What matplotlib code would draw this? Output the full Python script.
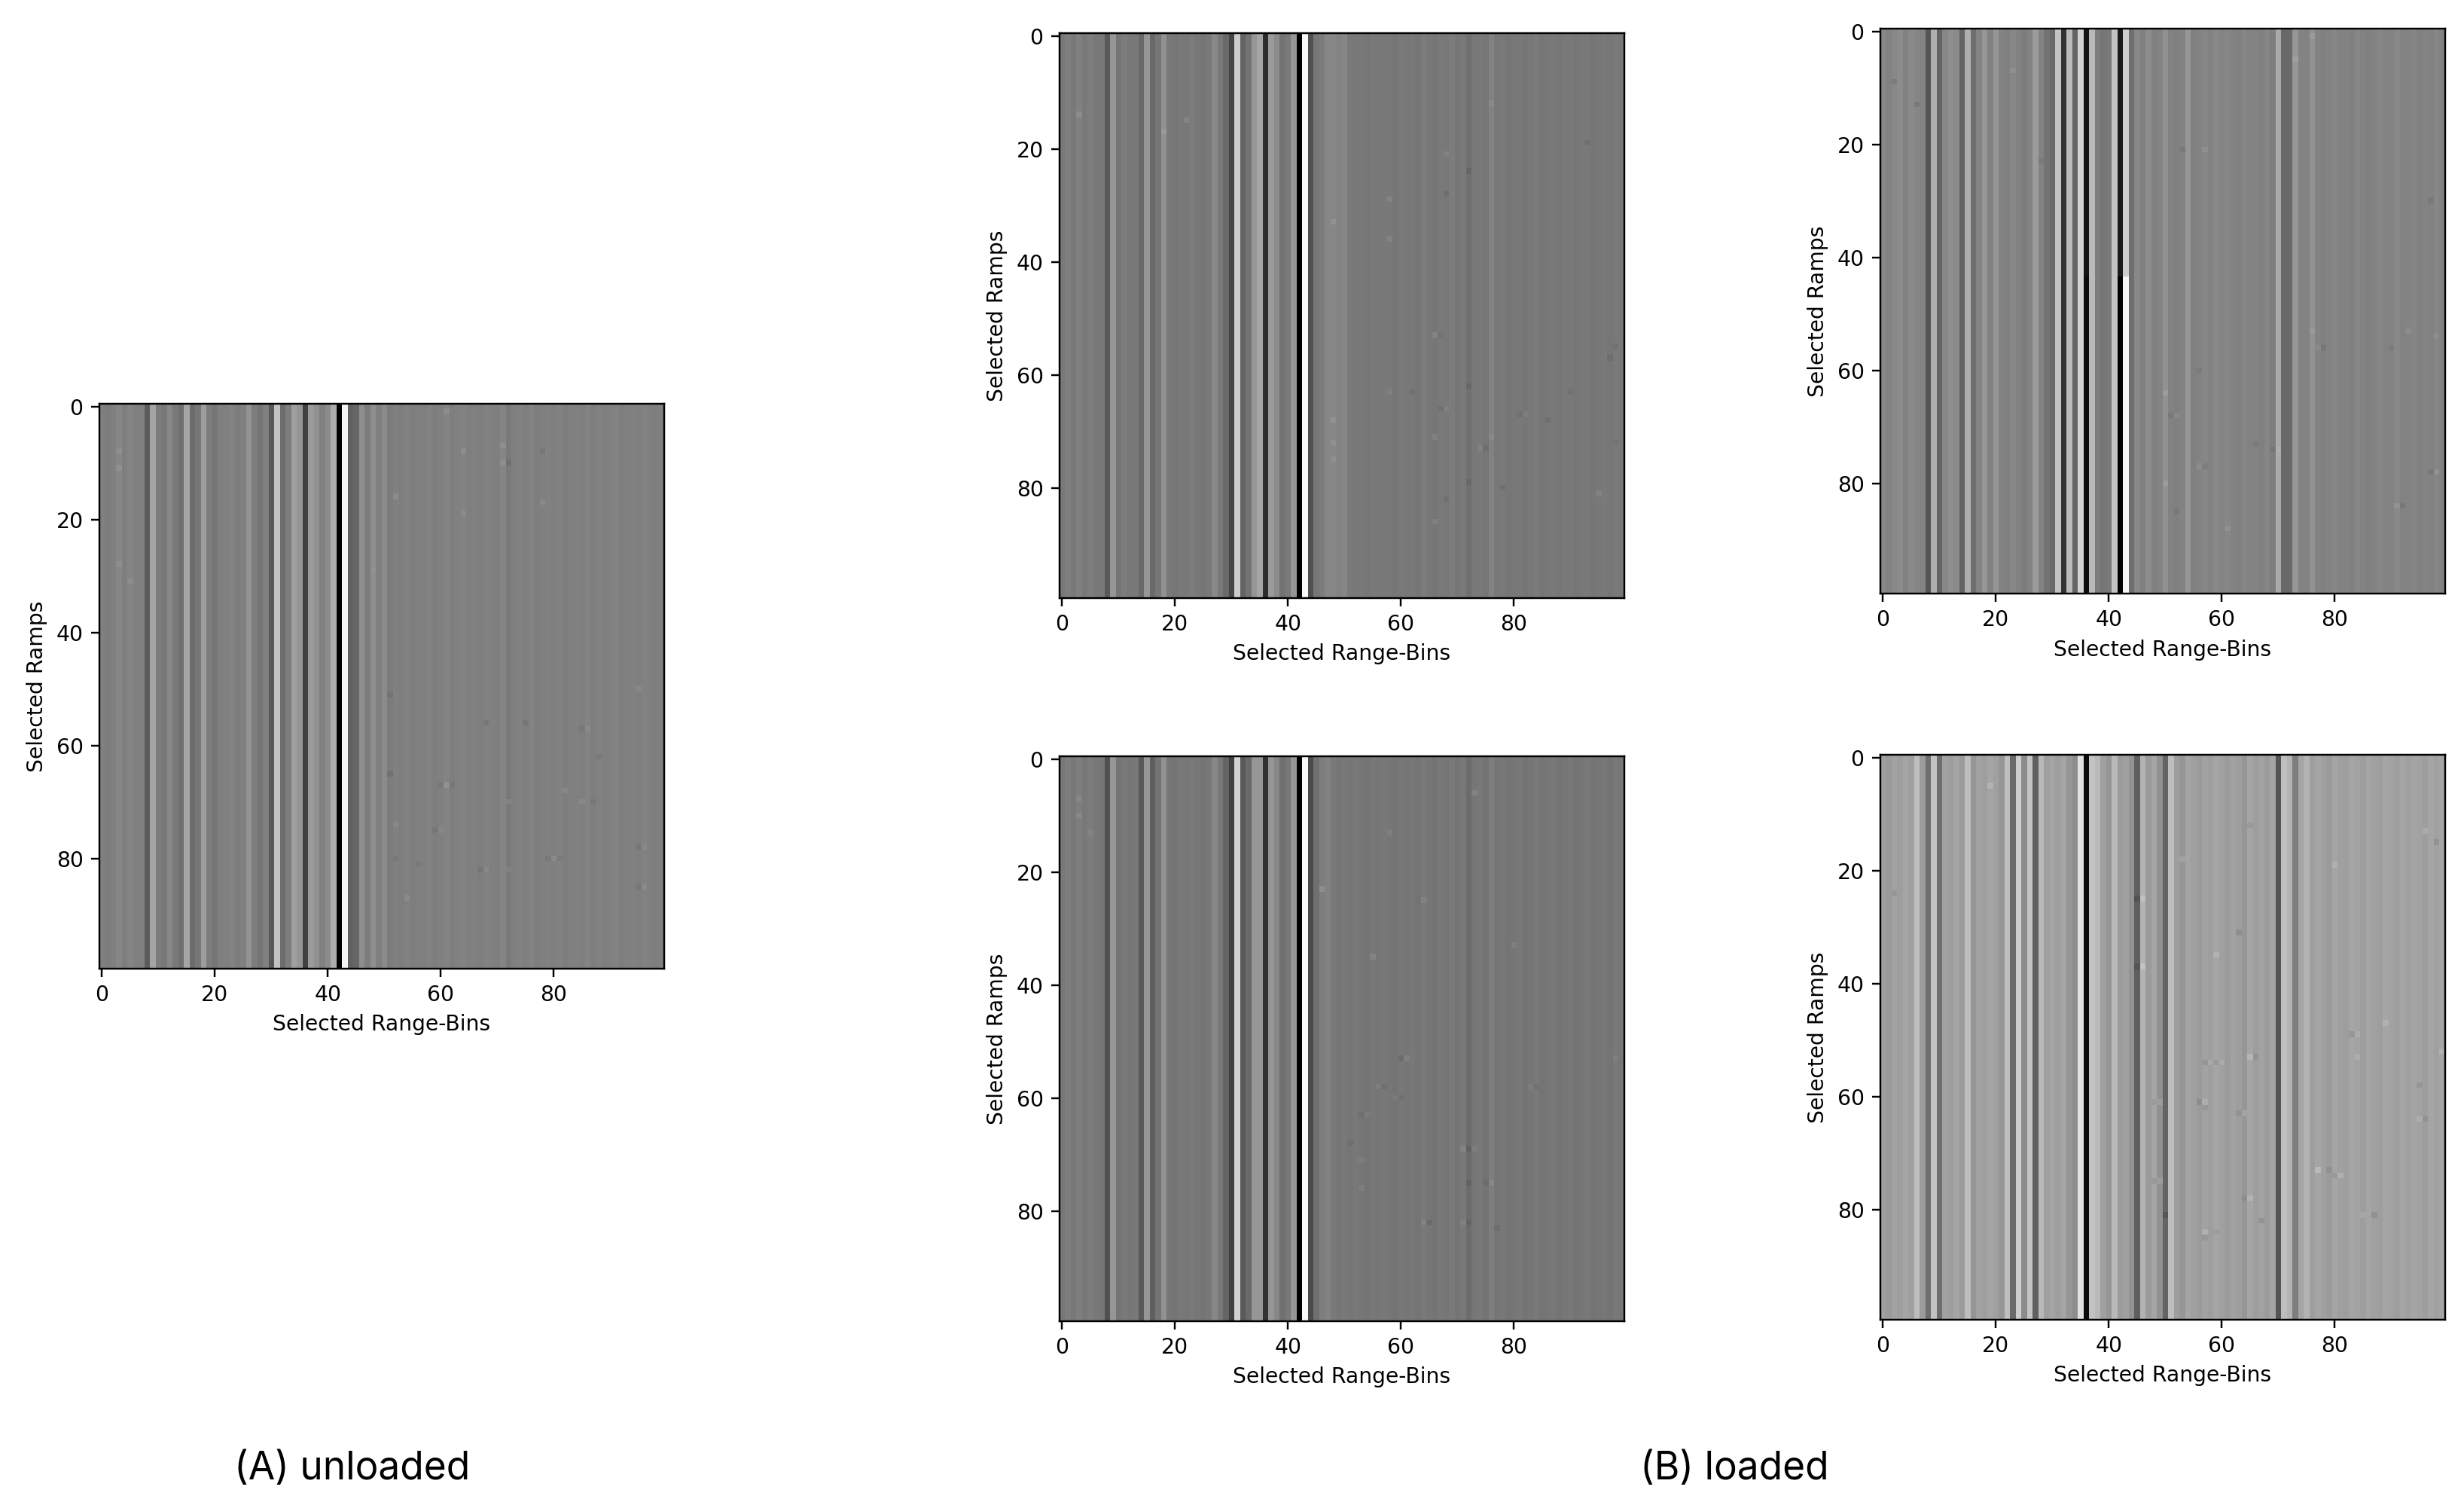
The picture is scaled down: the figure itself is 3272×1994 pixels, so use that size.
import numpy as np
import matplotlib
matplotlib.use('Agg')
import matplotlib.pyplot as plt

# gray level of every range bin (column)
unloaded = [
    128, 124, 128, 134, 126, 133, 128, 127, 92, 165,
    125, 120, 135, 122, 112, 165, 108, 118, 158, 125,
    118, 128, 128, 132, 125, 128, 148, 125, 116, 128,
    88, 195, 108, 125, 160, 150, 65, 155, 145, 128,
    140, 172, 0, 245, 98, 102, 142, 125, 142, 128,
    138, 124, 128, 126, 129, 126, 128, 127, 130, 126,
    128, 132, 126, 129, 132, 127, 128, 126, 130, 128,
    127, 133, 122, 128, 130, 127, 132, 126, 128, 129,
    127, 130, 126, 128, 129, 127, 131, 126, 129, 127,
    128, 130, 126, 128, 129, 127, 130, 128, 126, 128,
]
loaded_b1 = [
    122, 126, 122, 128, 122, 126, 122, 120, 90, 150,
    118, 124, 120, 122, 105, 150, 105, 118, 145, 122,
    118, 122, 120, 124, 120, 118, 122, 137, 122, 105,
    70, 205, 100, 115, 150, 165, 45, 155, 140, 115,
    122, 150, 0, 250, 80, 118, 124, 135, 135, 132,
    134, 122, 120, 122, 118, 122, 120, 122, 120, 118,
    122, 120, 122, 118, 124, 120, 118, 122, 120, 124,
    118, 122, 112, 120, 122, 118, 130, 120, 122, 118,
    120, 122, 118, 120, 123, 118, 120, 122, 118, 120,
    122, 118, 120, 122, 118, 120, 121, 118, 122, 120,
]
loaded_b2 = [
    120, 125, 120, 126, 120, 124, 120, 118, 80, 150,
    116, 122, 118, 120, 90, 150, 95, 116, 145, 118,
    116, 120, 118, 122, 118, 116, 120, 135, 120, 100,
    65, 210, 90, 105, 150, 150, 50, 150, 135, 112,
    120, 150, 0, 250, 75, 112, 125, 130, 122, 118,
    120, 118, 120, 118, 116, 120, 118, 120, 118, 116,
    120, 118, 120, 116, 122, 118, 116, 120, 118, 122,
    116, 120, 108, 118, 120, 116, 126, 118, 120, 116,
    118, 120, 116, 118, 121, 116, 118, 120, 116, 118,
    120, 116, 118, 120, 116, 118, 119, 116, 120, 118,
]
loaded_c1 = [
    135, 130, 136, 140, 130, 138, 134, 132, 85, 175,
    100, 135, 142, 138, 100, 175, 110, 132, 150, 130,
    150, 132, 128, 135, 130, 125, 132, 155, 132, 115,
    105, 195, 50, 185, 100, 210, 20, 185, 125, 118,
    122, 195, 25, 205, 110, 135, 128, 140, 128, 132,
    145, 130, 128, 132, 150, 128, 132, 134, 130, 136,
    132, 135, 130, 128, 134, 130, 132, 128, 134, 126,
    170, 105, 105, 150, 132, 130, 145, 132, 128, 132,
    134, 130, 132, 128, 134, 130, 128, 132, 134, 130,
    132, 136, 130, 132, 134, 128, 132, 130, 134, 130,
]
loaded_c2 = [
    160, 155, 162, 158, 165, 160, 190, 155, 110, 195,
    110, 162, 158, 165, 155, 190, 150, 162, 158, 165,
    160, 150, 190, 105, 205, 140, 195, 95, 185, 160,
    165, 158, 165, 150, 140, 225, 10, 195, 185, 160,
    150, 185, 155, 160, 148, 95, 180, 155, 165, 145,
    100, 190, 158, 150, 165, 160, 155, 162, 158, 165,
    160, 155, 162, 158, 150, 165, 158, 162, 155, 165,
    85, 190, 180, 125, 165, 180, 158, 165, 160, 155,
    165, 160, 158, 165, 162, 158, 165, 160, 158, 165,
    162, 158, 165, 160, 165, 162, 158, 165, 160, 165,
]

# cells that stand out from their column: (ramp, bin, gray offset)
speckle_a = [(11, 3, 10), (8, 3, 8), (16, 52, 12), (1, 61, 9), (7, 71, 9), (10, 71, 9),
             (17, 78, 9), (8, 78, -9), (29, 48, 6), (8, 64, 9), (19, 64, 7), (31, 5, 7),
             (28, 3, 7), (10, 72, -10), (67, 61, 12), (67, 60, -7), (67, 62, -7), (68, 82, 9),
             (70, 85, 9), (70, 87, -7), (80, 80, 11), (80, 81, -7), (80, 79, -7), (70, 72, 9),
             (74, 52, 8), (75, 60, 7), (75, 59, -7), (56, 68, -11), (56, 75, -9), (57, 86, 7),
             (57, 85, -7), (50, 95, 8), (85, 96, 8), (85, 95, -7), (65, 51, -11), (51, 51, -9),
             (87, 54, 9), (80, 52, -8), (78, 96, 7), (78, 95, -8), (62, 88, -7), (81, 56, -7),
             (82, 67, -8), (82, 68, 6), (82, 72, 7)]
speckle_b1 = [(14, 3, 12), (15, 22, 11), (17, 18, 9), (24, 72, -10), (29, 58, 11), (33, 48, 10),
              (21, 68, 9), (28, 68, -9), (19, 93, -9), (36, 58, 10), (12, 76, 7), (53, 66, 12),
              (53, 67, -7), (62, 72, -9), (68, 48, 11), (72, 48, 9), (75, 48, 8), (71, 66, 11),
              (71, 76, 6), (66, 68, 8), (66, 67, -8), (63, 62, -9), (63, 58, 8), (67, 81, -9),
              (67, 82, 7), (81, 95, 9), (80, 78, -9), (79, 72, -8), (82, 68, -8), (86, 66, 9),
              (55, 98, -8), (57, 97, -8), (73, 74, 7), (73, 75, -8), (68, 86, -8), (63, 90, -8),
              (72, 98, -7)]
speckle_b2 = [(10, 3, 10), (7, 3, 8), (6, 73, 12), (23, 46, 17), (33, 80, 9), (35, 55, 11),
              (13, 58, 9), (25, 64, 8), (13, 5, 7), (53, 60, -12), (53, 61, 10), (69, 71, 11),
              (69, 72, -12), (69, 73, 7), (75, 72, -9), (75, 76, 9), (75, 75, -7), (82, 65, -11),
              (82, 64, 8), (82, 71, 8), (82, 72, -9), (76, 53, 8), (71, 53, 7), (60, 59, 7),
              (60, 60, -8), (58, 57, -8), (58, 56, 7), (58, 84, -8), (58, 83, 7), (63, 53, -7),
              (63, 54, 7), (68, 51, -8), (83, 77, -8), (53, 98, 7)]
speckle_c1 = [(9, 2, -12), (7, 23, 8), (13, 6, -12), (5, 73, 10), (1, 76, 10), (21, 53, -10),
              (21, 57, 10), (23, 28, -10), (30, 97, -8), (78, 98, 11), (78, 97, -9), (64, 50, 11),
              (80, 50, 11), (68, 51, -8), (68, 52, 10), (56, 78, -9), (56, 77, 6), (56, 90, -8),
              (84, 91, 9), (84, 92, -8), (73, 66, -9), (77, 57, -9), (77, 56, 8), (60, 56, -9),
              (88, 61, 10), (53, 93, 8), (53, 76, 8), (54, 98, 7), (74, 69, -8), (74, 70, 4),
              (85, 52, -8)]
speckle_c2 = [(5, 19, 15), (15, 98, -14), (12, 65, -12), (13, 96, 12), (19, 80, 12), (25, 45, -14),
              (25, 46, 12), (37, 45, -12), (37, 46, 15), (31, 63, -15), (18, 53, 12), (24, 2, -12),
              (35, 59, 12), (73, 77, 20), (74, 81, 17), (74, 80, -12), (73, 79, -10), (63, 64, 14),
              (63, 63, -10), (53, 65, 16), (53, 66, -11), (61, 57, 11), (61, 56, -14), (62, 57, -11),
              (61, 49, 12), (61, 48, -10), (75, 49, 11), (75, 48, -12), (78, 65, 14), (78, 64, -9),
              (84, 57, 15), (85, 57, -11), (84, 59, -9), (54, 60, 11), (54, 59, -10), (54, 57, -12),
              (54, 58, 10), (81, 50, -15), (82, 67, -15), (58, 95, -12), (64, 95, 11), (64, 96, -12),
              (81, 87, -15), (81, 85, 8), (53, 84, 11), (49, 83, -14), (49, 84, 10), (47, 89, 12),
              (52, 99, 12)]

# panel c1: the bright pair changes from this ramp on
step_ramp = 44
step_bins = [36, 42, 43]
step_gray = [12, 0, 245]

ticks = [0, 20, 40, 60, 80]
xlabel = 'Selected Range-Bins'
ylabel = 'Selected Ramps'
caption_a = '(A) unloaded'
caption_b = '(B) loaded'

W, H = 3272, 1994
FS = 20.3

plt.rcParams['font.family'] = 'DejaVu Sans'
fig = plt.figure(figsize=(W / 100, H / 100), dpi=100)


def panel(left, top, col, spots, size=750):
    base = np.array(col, dtype=float)
    img = np.tile(base, (100, 1))
    for r, c, d in spots:
        img[r, c] = base[c] + d
    ax = fig.add_axes([left / W, 1 - (top + size) / H, size / W, size / H])
    ax.imshow(img, cmap='gray', vmin=0, vmax=255, aspect='auto', interpolation='nearest')
    ax.set_xticks(ticks)
    ax.set_yticks(ticks)
    ax.tick_params(labelsize=FS, length=7.6, width=1.75, pad=7.5)
    ax.set_xlabel(xlabel, fontsize=FS, labelpad=8)
    ax.set_ylabel(ylabel, fontsize=FS, labelpad=8)
    for s in ax.spines.values():
        s.set_linewidth(1.75)
    return ax, img


panel(131.5, 536, unloaded, speckle_a)
panel(1406.5, 44, loaded_b1, speckle_b1)
panel(1406.5, 1004, loaded_b2, speckle_b2)
ax_c1, img_c1 = panel(2496.5, 38.5, loaded_c1, speckle_c1)
for b, g in zip(step_bins, step_gray):
    img_c1[step_ramp:, b] = g
ax_c1.images[0].set_data(img_c1)
panel(2496.5, 1002, loaded_c2, speckle_c2)

fig.text(468 / W, 1 - 1950 / H, caption_a, fontsize=37, family='Inter', ha='center', va='center')
fig.text(2303 / W, 1 - 1950 / H, caption_b, fontsize=37, family='Inter', ha='center', va='center')

fig.savefig('out.png', dpi=100, facecolor='white')
